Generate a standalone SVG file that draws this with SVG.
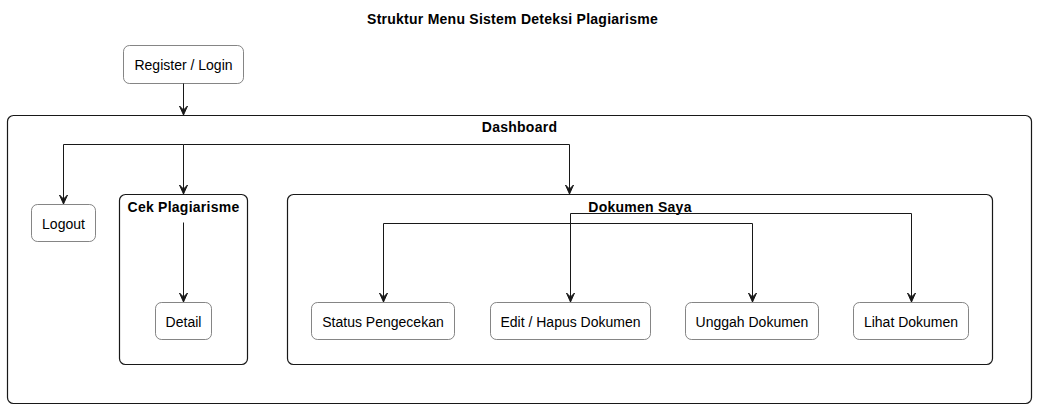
<svg xmlns="http://www.w3.org/2000/svg" width="1038" height="409" viewBox="0 0 1038 409">
<defs>
<style>
.bg{fill:#ffffff}
.node rect{fill:#ffffff;stroke:#666666;stroke-width:0.8}
.cont rect{fill:#ffffff;stroke:#181818;stroke-width:1.2}
.lbl{font-family:"Liberation Sans",Arial,sans-serif;font-size:14px;fill:#000000;text-anchor:middle}
.ttl{font-family:"Liberation Sans",Arial,sans-serif;font-size:14px;font-weight:bold;fill:#000000;text-anchor:middle;letter-spacing:0.25px}
.edge{fill:none;stroke:#181818;stroke-width:1}
</style>
<marker id="arr" markerWidth="12" markerHeight="12" viewBox="-10 -6 12 12" refX="0" refY="0" orient="auto" markerUnits="userSpaceOnUse">
<path d="M-9,-4 L0,0 L-9,4 L-5,0 Z" fill="#181818" stroke="#181818" stroke-width="1"/>
</marker>
</defs>
<rect class="bg" x="0" y="0" width="1038" height="409"/>
<text class="ttl" x="512.5" y="24">Struktur Menu Sistem Deteksi Plagiarisme</text>

<g id="dashboard" class="cont">
<rect x="7.5" y="115.5" width="1024" height="288" rx="6" ry="6"/>
<text class="ttl" x="519.5" y="132">Dashboard</text>
</g>
<g id="cek-plagiarisme" class="cont">
<rect x="119.5" y="194.5" width="128" height="170" rx="6" ry="6"/>
<text class="ttl" x="183.5" y="212">Cek Plagiarisme</text>
</g>
<g id="dokumen-saya" class="cont">
<rect x="287.5" y="194.5" width="705" height="170" rx="6" ry="6"/>
<text class="ttl" x="640" y="212">Dokumen Saya</text>
</g>

<g id="register-login" class="node">
<rect x="123.5" y="45.5" width="120" height="38" rx="6" ry="6"/>
<text class="lbl" x="183.5" y="70">Register / Login</text>
</g>
<g id="logout" class="node">
<rect x="31.5" y="204.5" width="64" height="37" rx="6" ry="6"/>
<text class="lbl" x="63.5" y="228.5">Logout</text>
</g>
<g id="detail" class="node">
<rect x="155.5" y="302.5" width="56" height="37" rx="6" ry="6"/>
<text class="lbl" x="183.5" y="326.5">Detail</text>
</g>
<g id="status-pengecekan" class="node">
<rect x="311.5" y="302.5" width="143" height="37" rx="6" ry="6"/>
<text class="lbl" x="383" y="326.5">Status Pengecekan</text>
</g>
<g id="edit-hapus" class="node">
<rect x="490.5" y="302.5" width="160" height="37" rx="6" ry="6"/>
<text class="lbl" x="570.5" y="326.5">Edit / Hapus Dokumen</text>
</g>
<g id="unggah" class="node">
<rect x="685.5" y="302.5" width="133" height="37" rx="6" ry="6"/>
<text class="lbl" x="752" y="326.5">Unggah Dokumen</text>
</g>
<g id="lihat" class="node">
<rect x="853.5" y="302.5" width="115" height="37" rx="6" ry="6"/>
<text class="lbl" x="911" y="326.5">Lihat Dokumen</text>
</g>

<g id="connectors">
<path class="edge" d="M183.5,83.5 V115" marker-end="url(#arr)"/>
<path class="edge" d="M183.5,144.5 H63.5 V204" marker-end="url(#arr)"/>
<path class="edge" d="M183.5,144.5 V194" marker-end="url(#arr)"/>
<path class="edge" d="M183.5,144.5 H569.5 V194" marker-end="url(#arr)"/>
<path class="edge" d="M183.5,222.5 V302" marker-end="url(#arr)"/>
<path class="edge" d="M570.5,213.5 V302" marker-end="url(#arr)"/>
<path class="edge" d="M570.5,213.5 H911.5 V302" marker-end="url(#arr)"/>
<path class="edge" d="M752.5,223.5 H383.5 V302" marker-end="url(#arr)"/>
<path class="edge" d="M752.5,223.5 V302" marker-end="url(#arr)"/>
</g>
</svg>
